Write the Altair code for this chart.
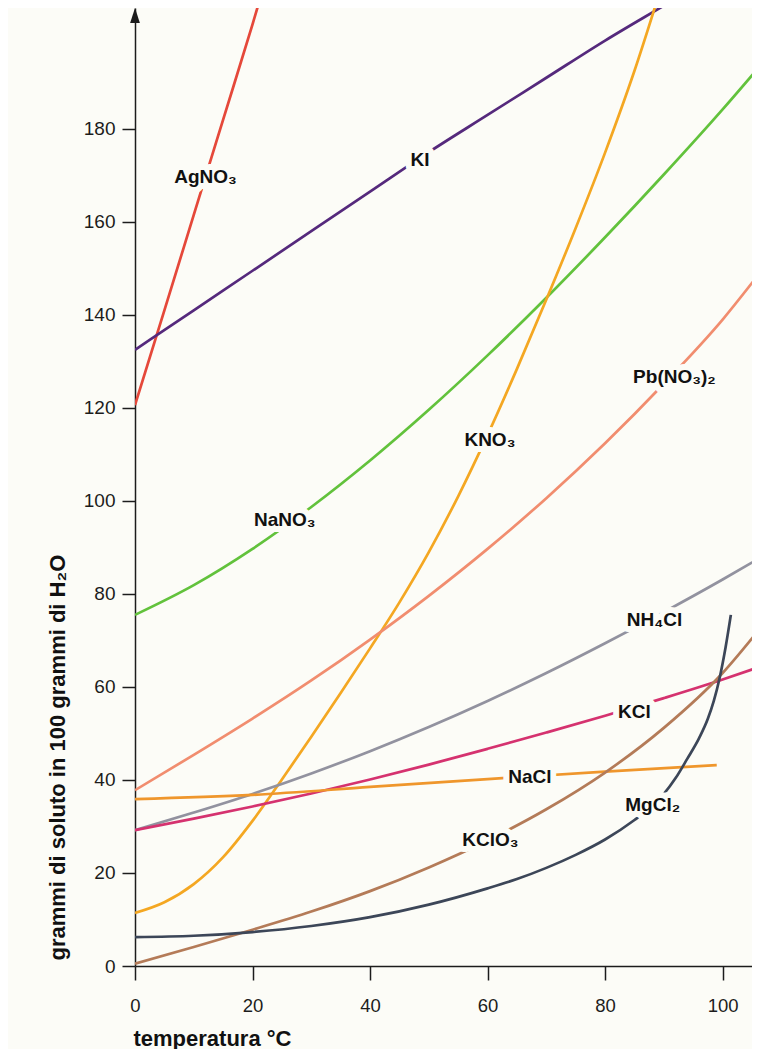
import altair as alt
import pandas as pd

FONT = "Liberation Sans, Arial, Helvetica, sans-serif"
BG = "#fcfcf7"
INK = "#1c1c1c"

# ---- data (solubility in g / 100 g H2O vs temperature °C) ----
names = ["AgNO3", "KI", "NaNO3", "KNO3", "Pb(NO3)2", "NH4Cl", "KCl", "NaCl", "KClO3", "MgCl2"]
colors = ["#e5483a", "#55297c", "#62c23c", "#f4a722", "#f18d6f", "#92929f",
          "#d5326f", "#ef962c", "#b47b58", "#3c4658"]

AgNO3_T = [0, 5, 10, 15, 20, 22]
AgNO3_S = [120.6, 141, 161.5, 182, 202.5, 211]

KI_T = [0, 10, 20, 30, 40, 50, 60, 70, 80, 90, 100]
KI_S = [132.5, 141, 149.5, 158, 166.5, 175, 183, 191, 199, 206.5, 214]

NaNO3_T = [0, 10, 20, 30, 40, 50, 60, 70, 80, 90, 100, 106]
NaNO3_S = [75.5, 81.9, 89.7, 98.7, 108.7, 119.6, 131.3, 143.7, 156.7, 170.2, 184.2, 193.0]

KNO3_T = [0, 5, 10, 15, 20, 25, 30, 35, 40, 45, 50, 55, 60, 65, 70, 75, 80, 85, 90]
KNO3_S = [11.4, 13.7, 17.6, 23.4, 31.2, 40.1, 49.3, 58.7, 68.3, 78.2, 89.0, 101.0, 114.2,
          128.4, 143.3, 158.7, 174.9, 192.5, 212.3]

PbNO32_T = [0, 10, 20, 30, 40, 50, 60, 70, 80, 90, 100, 106]
PbNO32_S = [37.8, 45.4, 53.2, 61.4, 70.2, 79.6, 89.7, 100.6, 112.4, 125.2, 139.0, 148.5]

NH4Cl_T = [0, 10, 20, 30, 40, 50, 60, 70, 80, 90, 100, 106]
NH4Cl_S = [29.2, 33.0, 37.0, 41.4, 46.2, 51.4, 57.0, 63.0, 69.4, 76.1, 83.1, 87.5]

KCl_T = [0, 10, 20, 30, 40, 50, 60, 70, 80, 90, 100, 106]
KCl_S = [29.2, 31.7, 34.3, 37.1, 40.1, 43.3, 46.7, 50.2, 53.8, 57.6, 61.6, 64.2]

NaCl_T = [0, 20, 40, 60, 80, 99]
NaCl_S = [35.9, 36.8, 38.5, 40.2, 41.8, 43.2]

KClO3_T = [0, 10, 20, 30, 40, 50, 60, 70, 80, 90, 100, 106]
KClO3_S = [0.5, 4.1, 7.8, 11.7, 16.1, 21.2, 27.0, 33.7, 41.6, 51.2, 63.0, 72.0]

MgCl2_T = [0, 10, 20, 30, 40, 50, 60, 65, 70, 75, 80, 85, 88, 90, 92, 94, 96, 97.5, 98.5,
           99.5, 100.5, 101.4]
MgCl2_S = [6.2, 6.5, 7.3, 8.6, 10.5, 13.2, 16.7, 18.7, 21.1, 23.9, 27.2, 31.4, 34.4, 37.0,
           40.4, 44.6, 49.0, 53.2, 57.0, 62.0, 68.5, 75.5]

label_text = ["AgNO₃", "KI", "NaNO₃", "KNO₃", "Pb(NO₃)₂", "NH₄Cl", "KCl", "NaCl", "KClO₃", "MgCl₂"]
label_T = [12.0, 48.5, 25.5, 60.4, 91.8, 88.4, 85.0, 67.2, 60.5, 88.1]
label_S = [169.7, 173.3, 95.9, 113.1, 126.7, 74.4, 54.6, 40.6, 27.1, 34.6]

x_ticks = [0, 20, 40, 60, 80, 100]
y_ticks = [0, 20, 40, 60, 80, 100, 120, 140, 160, 180]
arrow_T = [0]
arrow_S = [204.4]

# ---- build tables ----
series = [
    ("AgNO3", AgNO3_T, AgNO3_S), ("KI", KI_T, KI_S), ("NaNO3", NaNO3_T, NaNO3_S),
    ("KNO3", KNO3_T, KNO3_S), ("Pb(NO3)2", PbNO32_T, PbNO32_S), ("NH4Cl", NH4Cl_T, NH4Cl_S),
    ("KCl", KCl_T, KCl_S), ("NaCl", NaCl_T, NaCl_S), ("KClO3", KClO3_T, KClO3_S),
    ("MgCl2", MgCl2_T, MgCl2_S),
]
rows = []
for name, ts, ss in series:
    for t, s in zip(ts, ss):
        rows.append({"compound": name, "T": t, "S": s})
df = pd.DataFrame(rows)
labels_df = pd.DataFrame({"label": label_text, "T": label_T, "S": label_S})
arrow_df = pd.DataFrame({"T": arrow_T, "S": arrow_S})

X_TITLE = "temperatura °C"
Y_TITLE = "grammi di soluto in 100 grammi di H₂O"

x_axis = alt.Axis(
    values=x_ticks, grid=False, tickSize=14, tickWidth=1.5, tickColor=INK,
    domainColor=INK, domainWidth=1.5, labelFont=FONT, labelFontSize=18.5,
    labelColor=INK, labelPadding=16, labelFlush=False,
    titleFont=FONT, titleFontSize=22, titleFontWeight="bold", titleColor="#111",
    titleAnchor="start", titleAlign="left", titleBaseline="alphabetic",
    titleX=-2, titleY=79,
)
y_axis = alt.Axis(
    values=y_ticks, grid=False, tickSize=13, tickWidth=1.5, tickColor=INK,
    domainColor=INK, domainWidth=1.5, labelFont=FONT, labelFontSize=19,
    labelColor=INK, labelPadding=7, labelFlush=False,
    titleFont=FONT, titleFontSize=22, titleFontWeight="bold", titleColor="#111",
    titleAngle=270, titleAlign="left", titleBaseline="middle",
    titleX=-78, titleY=952,
)

X = alt.X("T:Q", scale=alt.Scale(domain=[0, 105], nice=False, zero=False), axis=x_axis, title=X_TITLE)
Y = alt.Y("S:Q", scale=alt.Scale(domain=[0, 206], nice=False, zero=False), axis=y_axis, title=Y_TITLE)

lines = alt.Chart(df).mark_line(strokeWidth=2.7, interpolate="monotone", clip=True).encode(
    x=X, y=Y,
    color=alt.Color("compound:N", scale=alt.Scale(domain=names, range=colors), legend=None),
)

halo = alt.Chart(labels_df).mark_text(
    font=FONT, fontSize=19, fontWeight="bold", stroke=BG, strokeWidth=12,
    strokeJoin="round", fill=BG,
).encode(x=X, y=Y, text="label:N")

text = alt.Chart(labels_df).mark_text(
    font=FONT, fontSize=19, fontWeight="bold", color="#111",
).encode(x=X, y=Y, text="label:N")

arrow = alt.Chart(arrow_df).mark_point(
    shape="M0,-1L0.65,1L-0.65,1Z", size=225, filled=True, color=INK, opacity=1, clip=False,
).encode(x=X, y=Y)

chart = alt.layer(lines, halo, text, arrow).properties(
    width=617, height=958,
    autosize=alt.AutoSizeParams(type="none"),
    padding={"left": 127, "top": 0, "right": 0, "bottom": 83},
).configure(background=BG).configure_view(strokeWidth=0)

chart.save("out.html", embed_options={"renderer": "svg", "actions": False})
